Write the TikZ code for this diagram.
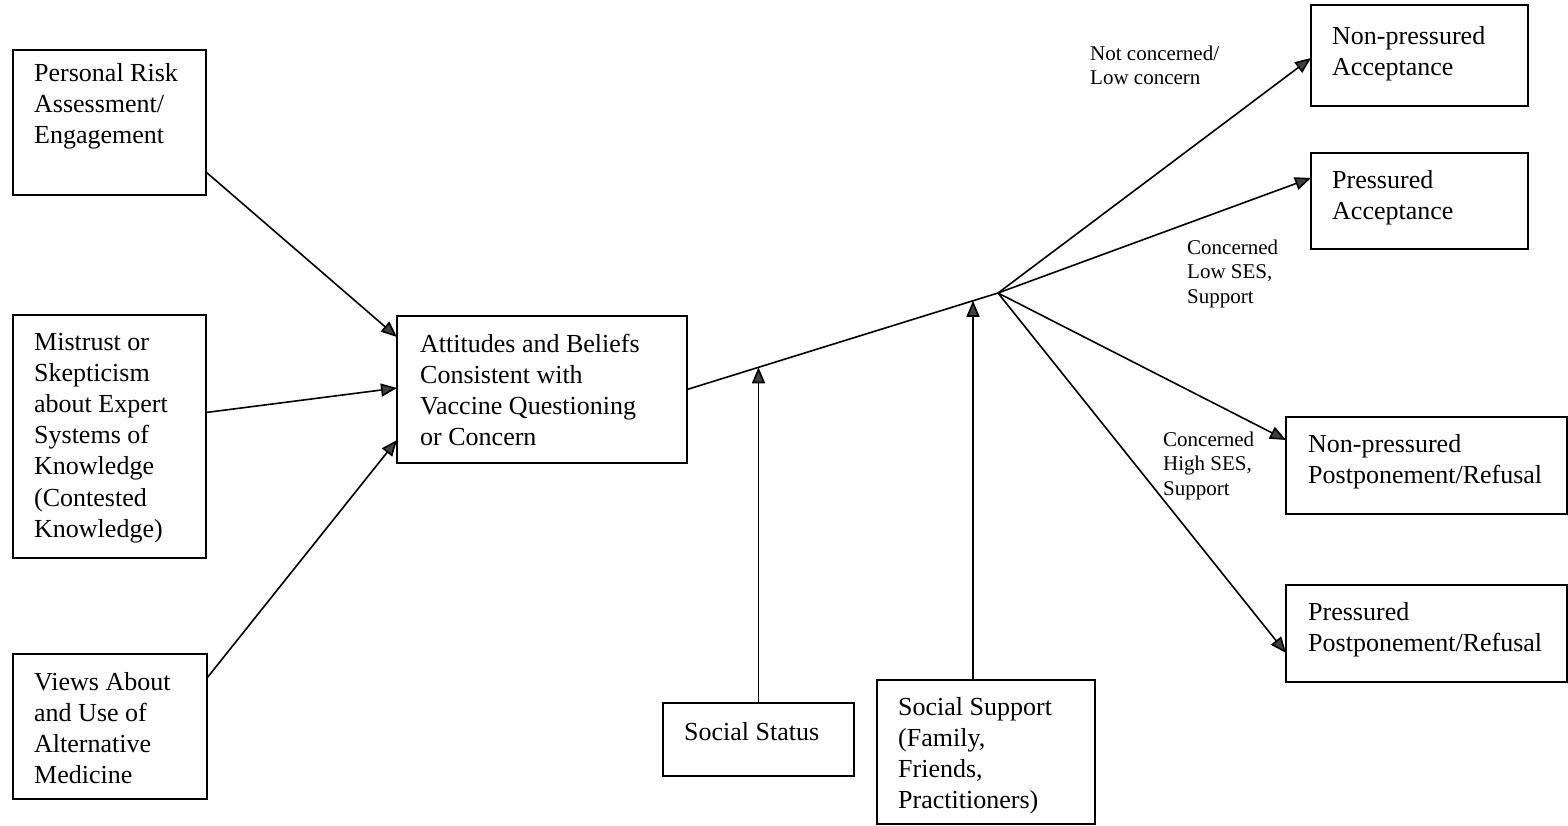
\documentclass[tikz,border=0pt]{standalone}
\usepackage{fontspec}
\setmainfont{Liberation Serif}
\usetikzlibrary{arrows.meta,calc}
\begin{document}
\begin{tikzpicture}[x=1pt,y=-1pt,
  box/.style={draw, line width=1.6pt, inner sep=0pt, outer sep=0pt, anchor=north west},
  txt/.style={inner sep=0pt, anchor=base west, align=left, font=\fontsize{26}{31.2}\selectfont},
  lbl/.style={inner sep=0pt, anchor=base west, align=left, font=\fontsize{21}{24.5}\selectfont},
  arr/.style={line width=1.6pt, -{Triangle[length=16pt,width=13pt,fill=black!75]}}]
\useasboundingbox (0,0) rectangle (1568,825);

% boxes
\node[box, minimum width=193pt, minimum height=145pt] (pr) at (13,50) {};
\node[box, minimum width=193pt, minimum height=243pt] (mt) at (13,315) {};
\node[box, minimum width=194pt, minimum height=145pt] (va) at (13,654) {};
\node[box, minimum width=290pt, minimum height=147pt] (ab) at (397,316) {};
\node[box, minimum width=191pt, minimum height=73pt] (ss) at (663,703) {};
\node[box, minimum width=218pt, minimum height=144pt] (sup) at (877,680) {};
\node[box, minimum width=217pt, minimum height=101pt] (npa) at (1311,5) {};
\node[box, minimum width=217pt, minimum height=96pt] (pa) at (1311,153) {};
\node[box, minimum width=281pt, minimum height=97pt] (nppr) at (1286,417) {};
\node[box, minimum width=281pt, minimum height=97pt] (ppr) at (1286,585) {};

% texts (anchored at the baseline of their last line)
\node[txt] (tpr) at (34,143.4) {Personal Risk\\Assessment/\\Engagement};
\node[txt] (tmt) at (34,537.2) {Mistrust or\\Skepticism\\about Expert\\Systems of\\Knowledge\\(Contested\\Knowledge)};
\node[txt] (tva) at (34,783.6) {Views About\\and Use of\\Alternative\\Medicine};
\node[txt] (tab) at (420,445.6) {Attitudes and Beliefs\\Consistent with\\Vaccine Questioning\\or Concern};
\node[txt] (tss) at (684,740) {Social Status};
\node[txt] (tsup) at (898,808.6) {Social Support\\(Family,\\Friends,\\Practitioners)};
\node[txt] (tnpa) at (1332,75.2) {Non-pressured\\Acceptance};
\node[txt] (tpa) at (1332,219.2) {Pressured\\Acceptance};
\node[txt] (tnppr) at (1308,483.2) {Non-pressured\\Postponement/Refusal};
\node[txt] (tppr) at (1308,651.2) {Pressured\\Postponement/Refusal};

% labels
\node[lbl] (l1) at (1090,84.5) {Not concerned/\\Low concern};
\node[lbl] (l2) at (1187,303) {Concerned\\Low SES,\\Support};
\node[lbl] (l3) at (1163,495) {Concerned\\High SES,\\Support};

% connectors
\coordinate (j) at (998,293);
\draw[arr] ([yshift=23pt]pr.south east) -- ([yshift=-21pt]ab.north west);
\draw[arr] ([yshift=24pt]mt.east) -- ([yshift=1.5pt]ab.west);
\draw[arr] ([yshift=-24pt]va.north east) -- ([yshift=23pt]ab.south west);
\draw[line width=1.6pt] (ab.east) -- (j) coordinate[pos=0.23] (p1) coordinate[pos=0.9196] (p2);
\draw[arr] (ss.north) -- (ss.north |- p1);
\draw[arr] ([xshift=-13pt]sup.north) -- ([xshift=-13pt]sup.north |- p2);
\draw[arr] (j) -- ([yshift=-2.5pt]npa.west);
\draw[arr] (j) -- ([yshift=23pt]pa.west);
\draw[arr] (j) -- ([yshift=-23pt]nppr.north west);
\draw[arr] (j) -- ([yshift=-19.5pt]ppr.west);
\end{tikzpicture}
\end{document}
